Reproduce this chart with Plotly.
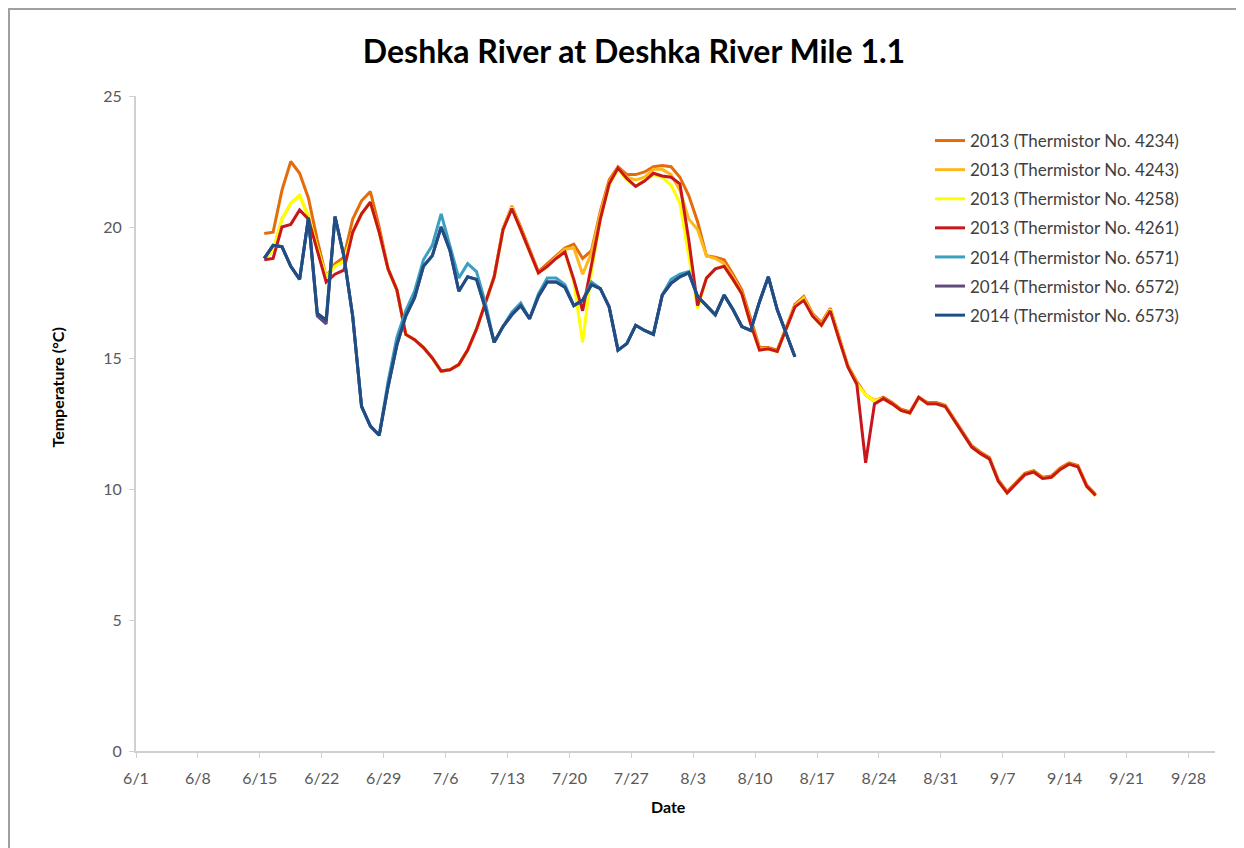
import pandas as pd
import plotly.graph_objects as go

# ---------------- data ----------------
start_2013 = "2013-06-15 12:00"
start_2014 = "2013-06-15 12:00"   # 2014 records plotted on the same month/day axis

t4261 = [18.75, 18.8, 20.0, 20.1, 20.65, 20.3, 19.1, 17.9, 18.2, 18.35, 19.8, 20.5, 20.95, 19.8, 18.4, 17.6,
         15.9, 15.7, 15.4, 15.0, 14.5, 14.55, 14.75, 15.3, 16.1, 17.1, 18.1, 19.9, 20.7, 19.9, 19.1, 18.25,
         18.5, 18.8, 19.05, 18.0, 16.8, 18.5, 20.3, 21.65, 22.25, 21.85, 21.55, 21.75, 22.05, 21.95, 21.9,
         21.65, 19.5, 17.0, 18.05, 18.4, 18.5, 18.0, 17.45, 16.3, 15.3, 15.35, 15.25, 16.1, 16.95, 17.2,
         16.6, 16.25, 16.8, 15.7, 14.65, 14.0, 11.0, 13.25, 13.45, 13.25, 13.0, 12.9, 13.5, 13.25, 13.25,
         13.15, 12.65, 12.15, 11.6, 11.35, 11.15, 10.3, 9.85, 10.2, 10.55, 10.65, 10.4, 10.45, 10.75, 10.95,
         10.85, 10.1, 9.75]

t4234 = [19.75, 19.8, 21.4, 22.5, 22.05, 21.1, 19.5, 18.1, 18.6, 18.85, 20.3, 21.0, 21.35, 20.0, 18.4, 17.6,
         15.9, 15.7, 15.4, 15.0, 14.5, 14.55, 14.75, 15.3, 16.1, 17.1, 18.1, 19.95, 20.8, 20.0, 19.15, 18.3,
         18.6, 18.9, 19.2, 19.35, 18.8, 19.1, 20.6, 21.8, 22.3, 22.0, 22.0, 22.1, 22.3, 22.35, 22.3,
         21.9, 21.2, 20.2, 18.9, 18.85, 18.75, 18.2, 17.6, 16.5, 15.4, 15.4, 15.3, 16.15, 17.05, 17.35,
         16.7, 16.35, 16.9, 15.8, 14.7, 14.1, 13.6, 13.35, 13.5, 13.3, 13.05, 12.95, 13.5, 13.3, 13.3,
         13.2, 12.7, 12.2, 11.65, 11.4, 11.2, 10.35, 9.9, 10.25, 10.6, 10.7, 10.45, 10.5, 10.8, 11.0,
         10.9, 10.15, 9.8]

t4243 = [18.8, 19.1, 20.3, 20.9, 21.2, 20.4, 19.2, 18.1, 18.5, 18.7, 19.8, 20.5, 20.95, 19.8, 18.4, 17.6,
         15.9, 15.7, 15.4, 15.0, 14.5, 14.55, 14.75, 15.3, 16.1, 17.1, 18.1, 19.9, 20.75, 19.9, 19.1, 18.25,
         18.5, 18.85, 19.15, 19.2, 18.2, 19.0, 20.5, 21.7, 22.25, 21.9, 21.8, 21.9, 22.2, 22.2, 22.0,
         21.4, 20.3, 19.9, 18.9, 18.8, 18.6, 18.1, 17.5, 16.35, 15.35, 15.35, 15.25, 16.1, 17.0, 17.3,
         16.65, 16.3, 16.85, 15.75, 14.7, 14.05, 13.6, 13.4, 13.45, 13.25, 13.0, 12.9, 13.5, 13.25, 13.25,
         13.15, 12.65, 12.15, 11.6, 11.35, 11.15, 10.3, 9.85, 10.2, 10.55, 10.65, 10.4, 10.45, 10.75, 10.95,
         10.85, 10.1, 9.75]

t4258 = [18.8, 19.1, 20.3, 20.9, 21.2, 20.4, 19.2, 18.1, 18.5, 18.7, 19.8, 20.5, 20.95, 19.8, 18.4, 17.6,
         15.9, 15.7, 15.4, 15.0, 14.5, 14.55, 14.75, 15.3, 16.1, 17.1, 18.1, 19.9, 20.75, 19.9, 19.1, 18.25,
         18.5, 18.8, 19.05, 17.9, 15.6, 18.3, 20.3, 21.6, 22.2, 21.8, 21.55, 21.8, 22.0, 21.9, 21.6,
         20.9, 18.9, 16.9, 18.05, 18.4, 18.5, 18.0, 17.45, 16.3, 15.3, 15.35, 15.25, 16.1, 16.95, 17.25,
         16.6, 16.25, 16.85, 15.7, 14.65, 14.0, 13.6, 13.35, 13.45, 13.25, 13.0, 12.9, 13.5, 13.25, 13.25,
         13.15, 12.65, 12.15, 11.6, 11.35, 11.15, 10.3, 9.85, 10.2, 10.55, 10.65, 10.4, 10.45, 10.75, 10.95,
         10.85, 10.1, 9.75]

t6573 = [18.8, 19.3, 19.25, 18.5, 18.0, 20.35, 16.7, 16.45, 20.4, 18.9, 16.6, 13.15, 12.4, 12.05, 13.9, 15.5,
         16.6, 17.3, 18.5, 18.9, 20.0, 19.1, 17.55, 18.1, 18.0, 16.9, 15.6, 16.2, 16.65, 17.0, 16.5, 17.35,
         17.9, 17.9, 17.7, 17.0, 17.2, 17.8, 17.65, 16.95, 15.3, 15.55, 16.25, 16.05, 15.9, 17.4, 17.85,
         18.1, 18.25, 17.35, 17.0, 16.65, 17.4, 16.85, 16.2, 16.05, 17.15, 18.1, 16.85, 15.95, 15.05]

t6572 = [18.8, 19.3, 19.25, 18.5, 18.0, 20.35, 16.6, 16.3, 20.4, 18.9, 16.6, 13.15, 12.4, 12.05, 13.9, 15.5,
         16.6, 17.3, 18.5, 18.9, 20.0, 19.1, 17.55, 18.1, 18.0, 16.9, 15.6, 16.2, 16.65, 17.0, 16.5, 17.35,
         17.9, 17.9, 17.7, 17.0, 17.2, 17.8, 17.65, 16.95, 15.3, 15.55, 16.25, 16.05, 15.9, 17.4, 17.85,
         18.1, 18.25, 17.35, 17.0, 16.65, 17.4, 16.85, 16.2, 16.05, 17.15, 18.1, 16.85, 15.95, 15.05]

t6571 = [18.8, 19.3, 19.25, 18.5, 18.0, 20.35, 16.7, 16.45, 20.4, 18.9, 16.6, 13.15, 12.4, 12.05, 14.1, 15.8,
         16.8, 17.55, 18.75, 19.3, 20.5, 19.3, 18.05, 18.6, 18.3, 17.1, 15.6, 16.2, 16.75, 17.1, 16.5, 17.45,
         18.05, 18.05, 17.8, 17.0, 17.2, 17.9, 17.65, 16.95, 15.3, 15.55, 16.25, 16.05, 15.9, 17.4, 18.0,
         18.2, 18.3, 17.35, 17.0, 16.65, 17.4, 16.85, 16.2, 16.05, 17.15, 18.1, 16.85, 15.95, 15.05]

series = [
    ("2013 (Thermistor No. 4234)", start_2013, t4234, "#E46C0A"),
    ("2013 (Thermistor No. 4243)", start_2013, t4243, "#FFB81C"),
    ("2013 (Thermistor No. 4258)", start_2013, t4258, "#FFFF00"),
    ("2013 (Thermistor No. 4261)", start_2013, t4261, "#C9161B"),
    ("2014 (Thermistor No. 6571)", start_2014, t6571, "#3A9FC0"),
    ("2014 (Thermistor No. 6572)", start_2014, t6572, "#604A7B"),
    ("2014 (Thermistor No. 6573)", start_2014, t6573, "#1F4E86"),
]

x_ticks_start = "2013-06-01"
x_range = ["2013-06-01", "2013-10-01"]
y_range = [0, 25]

FONT = "Lato, Liberation Sans, sans-serif"

# ---------------- geometry (page pixels; page body has an 8px margin) ----------------
W, H = 1236, 840
L, R, T, B = 128, 29, 88, 97
pw, ph = W - L - R, H - T - B


def px(xp):   # page x -> paper x
    return (xp - 136) / pw


def py(yp):   # page y -> paper y
    return (751 - yp) / ph


fig = go.Figure()
for i, (name, start, vals, color) in enumerate(series):
    dates = pd.date_range(start=start, periods=len(vals), freq="D")
    fig.add_trace(go.Scatter(
        x=dates, y=vals, mode="lines", name=name,
        legendgroup=f"g{i}",
        line=dict(color=color, width=3),
    ))

fig.update_layout(
    width=W, height=H,
    paper_bgcolor="white", plot_bgcolor="white",
    margin=dict(l=L, r=R, t=T, b=B),
    font=dict(family=FONT, size=16, color="#595959"),
    title=dict(text="<b>Deshka River at Deshka River Mile 1.1</b>",
               x=(634 - 8) / W, xref="container", xanchor="center",
               y=1 - (52 - 8) / H, yref="container", yanchor="middle",
               font=dict(family=FONT, size=32, color="black")),
    showlegend=True,
    legend=dict(x=px(930), y=py(123), xanchor="left", yanchor="top",
                bgcolor="rgba(0,0,0,0)", tracegroupgap=4,
                font=dict(family=FONT, size=17, color="#404040")),
    xaxis=dict(type="date", range=x_range, tick0=x_ticks_start, dtick=7 * 86400000,
               tickformat="%-m/%-d", showgrid=False, zeroline=False,
               showline=True, linecolor="#D0D0D0", linewidth=2,
               ticks="outside", ticklen=5, tickcolor="#D0D0D0", tickwidth=1,
               ticklabelstandoff=7,
               tickfont=dict(family=FONT, size=16, color="#595959")),
    yaxis=dict(range=y_range, dtick=5, showgrid=False, zeroline=False,
               showline=True, linecolor="#D0D0D0", linewidth=2,
               ticks="outside", ticklen=5, tickcolor="#D0D0D0", tickwidth=1,
               ticklabelstandoff=4,
               tickfont=dict(family=FONT, size=16, color="#595959")),
    annotations=[
        dict(text="<b>Temperature (°C)</b>", x=px(56.5), y=py(388), xref="paper", yref="paper",
             xanchor="center", yanchor="middle",
             showarrow=False, textangle=-90, font=dict(family=FONT, size=16, color="black")),
        dict(text="<b>Date</b>", x=px(668), y=py(806), xref="paper", yref="paper",
             xanchor="center", yanchor="middle",
             showarrow=False, font=dict(family=FONT, size=16, color="black")),
    ],
)

# chart-area border (top/left visible, the rest runs off the page)
fig.add_shape(type="rect", xref="paper", yref="paper",
              x0=px(9), x1=px(W + 60), y0=py(H + 60), y1=py(9),
              line=dict(color="#A0A0A0", width=2), fillcolor="rgba(0,0,0,0)", layer="below")

fig.write_html("out.html")
